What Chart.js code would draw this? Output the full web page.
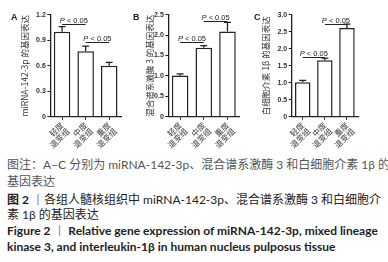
<!DOCTYPE html>
<html>
<head>
<meta charset="utf-8">
<script src="https://cdn.jsdelivr.net/npm/chart.js@4.4.0/dist/chart.umd.min.js"></script>
<style>
  html, body { margin: 0; padding: 0; background: #fff; }
  #wrap { position: relative; width: 388px; height: 262px; overflow: hidden; }
  .panel { position: absolute; top: 0; height: 150px; }
  .letter { position: absolute; top: 12px; font: bold 9px 'Liberation Sans', Arial, sans-serif; color: #222; }
  .cap { position: absolute; left: 7px; white-space: nowrap; font-size: 12px; line-height: 14px;
         font-family: Lato, 'Noto Sans CJK SC', sans-serif; }
  .note { color: #555; }
  .cn { color: #222; }
  .en { color: #222; font-weight: bold; }
  .sep { color: #888; font-weight: normal; }
</style>
</head>
<body>
<div id="wrap">
  <div class="panel" style="left:0;width:128px"><canvas id="chartA"></canvas></div>
  <div class="panel" style="left:128px;width:125px"><canvas id="chartB"></canvas></div>
  <div class="panel" style="left:253px;width:135px"><canvas id="chartC"></canvas></div>
  <span class="letter" style="left:11px">A</span>
  <span class="letter" style="left:133px">B</span>
  <span class="letter" style="left:254px">C</span>

  <div class="cap note" style="top:158px">图注：A–C 分别为 miRNA-142-3p、混合谱系激酶 3 和白细胞介素 1β 的</div>
  <div class="cap note" style="top:175px">基因表达</div>
  <div class="cap cn" style="top:193px"><b>图 2</b> <span class="sep">丨</span>各组人髓核组织中 miRNA-142-3p、混合谱系激酶 3 和白细胞介</div>
  <div class="cap cn" style="top:208px">素 1β 的基因表达</div>
  <div class="cap en" style="top:224px">Figure 2 <span class="sep">丨</span> Relative gene expression of miRNA-142-3p, mixed lineage</div>
  <div class="cap en" style="top:240px">kinase 3, and interleukin-1β in human nucleus pulposus tissue</div>
</div>
<script>
// 分組
const groups = [['轻度', '退变组'], ['中度', '退变组'], ['重度', '退变组']];

// A: miRNA-142-3p
const mirnaMean = [1.00, 0.77, 0.60];
const mirnaErr = [0.06, 0.06, 0.04];
const mirnaSig = [[0, 1, 1.09], [1, 2, 0.875]];

// B: 混合谱系激酶 3
const mlk3Mean = [1.01, 1.69, 2.09];
const mlk3Err = [0.04, 0.05, 0.22];
const mlk3Sig = [[0, 1, 1.84], [1, 2, 2.35]];

// C: 白细胞介素 1β
const il1bMean = [1.01, 1.66, 2.61];
const il1bErr = [0.06, 0.06, 0.11];
const il1bSig = [[0, 1, 1.76], [1, 2, 2.73]];

const ink = '#222';
const sans = "'Liberation Sans', Arial, sans-serif";
const cjk = "'Noto Sans CJK SC', 'Liberation Sans', sans-serif";

// 誤差線與顯著性標記
const markPlugin = {
  id: 'marks',
  afterDraw(chart, args, opts) {
    const { ctx } = chart;
    const x = chart.scales.x, y = chart.scales.y;
    const meta = chart.getDatasetMeta(0);
    ctx.save();
    ctx.strokeStyle = ink;
    ctx.lineWidth = 1.3;
    opts.errors.forEach((e, i) => {
      const bar = meta.data[i];
      const top = y.getPixelForValue(opts.means[i] + e);
      ctx.beginPath();
      ctx.moveTo(bar.x, bar.y);
      ctx.lineTo(bar.x, top);
      ctx.moveTo(bar.x - 3.5, top);
      ctx.lineTo(bar.x + 3.5, top);
      ctx.stroke();
    });
    ctx.lineWidth = 1;
    ctx.fillStyle = ink;
    ctx.textBaseline = 'alphabetic';
    opts.brackets.forEach(([a, b, v]) => {
      const yy = Math.round(y.getPixelForValue(v)) + 0.5;
      const xa = x.getPixelForValue(a), xb = x.getPixelForValue(b);
      ctx.beginPath();
      ctx.moveTo(xa, yy);
      ctx.lineTo(xb, yy);
      ctx.stroke();
      ctx.font = 'italic 7.5px ' + sans;
      const wp = ctx.measureText('P').width;
      ctx.font = '7.5px ' + sans;
      const rest = ' < 0.05';
      const wr = ctx.measureText(rest).width;
      const x0 = (xa + xb) / 2 - (wp + wr) / 2;
      ctx.font = 'italic 7.5px ' + sans;
      ctx.fillText('P', x0, yy - 2);
      ctx.font = '7.5px ' + sans;
      ctx.fillText(rest, x0 + wp, yy - 2);
    });
    ctx.restore();
  }
};

function makeChart(id, means, errors, brackets, max, step, title, pad, yWidth) {
  return new Chart(document.getElementById(id), {
    type: 'bar',
    data: {
      labels: groups,
      datasets: [{
        data: means,
        backgroundColor: '#fff',
        borderColor: ink,
        borderWidth: 1.5,
        barPercentage: 0.7,
        categoryPercentage: 1
      }]
    },
    options: {
      responsive: true,
      maintainAspectRatio: false,
      animation: false,
      layout: { padding: pad },
      plugins: {
        legend: { display: false },
        tooltip: { enabled: false },
        marks: { means, errors, brackets }
      },
      scales: {
        x: {
          grid: { display: true, drawOnChartArea: false, offset: false, tickLength: 3, color: ink, lineWidth: 1 },
          border: { color: ink, width: 1.3 },
          ticks: {
            color: '#333', font: { size: 8, family: cjk, lineHeight: 1.05 },
            minRotation: 45, maxRotation: 45, padding: 1, autoSkip: false
          },
          afterFit: s => { s.height = 33.3; }
        },
        y: {
          min: 0, max: max,
          grid: { display: true, drawOnChartArea: false, tickLength: 3, color: ink, lineWidth: 1 },
          border: { color: ink, width: 1.3 },
          ticks: {
            stepSize: step, color: '#333', padding: 1.5,
            font: { size: 7, weight: 'bold', family: sans },
            callback: v => v === 0 ? '0' : v.toFixed(1)
          },
          title: {
            display: true, text: title, color: '#333',
            font: { size: 8.5, family: cjk }, padding: { top: 0, bottom: 0 }
          },
          afterFit: s => { s.width = yWidth; }
        }
      }
    },
    plugins: [markPlugin]
  });
}

makeChart('chartA', mirnaMean, mirnaErr, mirnaSig, 1.2, 0.3, 'miRNA-142-3p 的基因表达',
  { top: 14.7, right: 7, bottom: 0, left: 20 }, 30.3);
makeChart('chartB', mlk3Mean, mlk3Err, mlk3Sig, 2.5, 0.5, '混合谱系激酶 3 的基因表达',
  { top: 14.7, right: 13.7, bottom: 0, left: 17 }, 23.3);
makeChart('chartC', il1bMean, il1bErr, il1bSig, 3.0, 0.5, '白细胞介素 1β 的基因表达',
  { top: 14.7, right: 30, bottom: 0, left: 8 }, 30.7);
</script>
</body>
</html>
